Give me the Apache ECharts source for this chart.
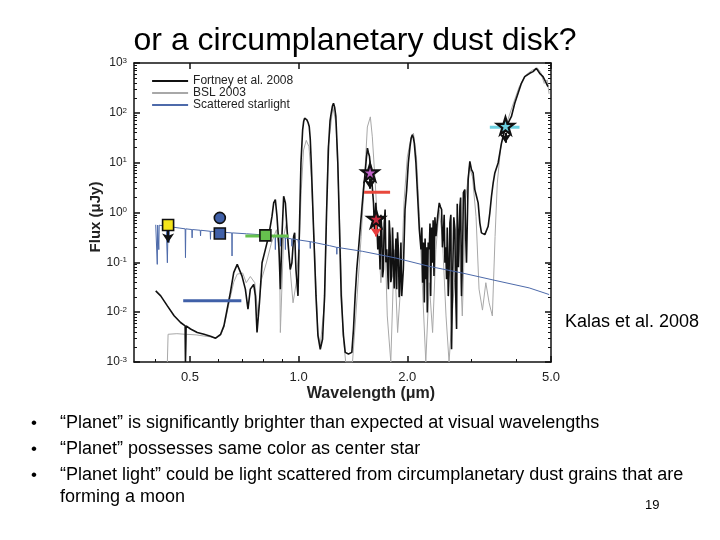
<!DOCTYPE html>
<html>
<head>
<meta charset="utf-8">
<script src="https://cdn.jsdelivr.net/npm/echarts@6/dist/echarts.min.js"></script>
<style>
html, body { margin: 0; padding: 0; background: #fff; }
#main { width: 720px; height: 540px; }
</style>
</head>
<body>
<div id="main"></div>
<script>
// spectra: [wavelength (um), flux (uJy)]
const fortney2008 = [
  [0.402,0.0267],[0.415,0.0212],[0.433,0.0134],[0.452,0.0085],[0.471,0.0062],[0.485,0.0053],[0.486,0.001],[0.488,0.0053],
  [0.502,0.0046],[0.524,0.0039],[0.547,0.0036],[0.570,0.0033],[0.589,0.0030],[0.608,0.0036],[0.621,0.0053],[0.634,0.0115],
  [0.647,0.0247],[0.661,0.062],[0.676,0.091],[0.683,0.098],[0.697,0.053],[0.712,0.029],[0.724,0.0115],[0.735,0.029],
  [0.751,0.036],[0.759,0.0212],[0.767,0.0039],[0.779,0.0156],[0.792,0.098],[0.809,0.182],[0.826,0.336],[0.844,0.845],
  [0.853,1.56],[0.862,1.82],[0.871,0.845],[0.881,0.247],[0.890,0.029],[0.899,0.336],[0.909,2.12],[0.919,1.56],
  [0.929,0.457],[0.938,0.182],[0.948,0.072],[0.958,0.098],[0.969,0.336],[0.975,0.392],[0.983,0.072],[0.996,0.0212],
  [1.006,0.62],[1.015,9.85],[1.026,45.7],[1.033,68],[1.039,78.2],[1.046,80],[1.054,72.4],[1.062,64],[1.070,53.3],[1.077,30],[1.084,9.85],[1.100,0.457],
  [1.117,0.0212],[1.131,0.0034],[1.148,0.0018],[1.165,0.0029],[1.180,0.0212],[1.195,0.985],[1.210,21.2],[1.222,70],[1.231,98.5],
  [1.240,135],[1.249,156],[1.258,130],[1.268,84.5],[1.284,9.85],[1.298,0.457],[1.312,0.0212],[1.331,0.0034],[1.346,0.00156],[1.374,0.00145],
  [1.404,0.00156],[1.419,0.0046],[1.434,0.0212],[1.449,0.072],[1.465,0.182],[1.480,0.457],[1.496,1.15],[1.512,2.88],
  [1.528,6.21],[1.540,12],[1.551,19.6],[1.560,16],[1.571,13.4],[1.594,4.57],[1.612,1.56],[1.622,0.457],[1.636,1.56],[1.646,0.62],
  [1.657,0.182],[1.671,0.336],[1.681,0.072],[1.690,0.9],[1.699,0.457],[1.708,0.05],[1.717,0.072],[1.726,0.6],[1.736,1.15],[1.745,0.1],[1.754,0.182],[1.773,0.029],
  [1.782,0.7],[1.792,0.336],[1.800,0.04],[1.811,0.053],[1.820,0.5],[1.830,0.457],[1.840,0.03],[1.849,0.098],[1.860,0.3],[1.869,0.029],[1.879,0.4],[1.889,0.182],[1.899,0.02],[1.909,0.046],[1.920,0.25],[1.930,0.021],
  [1.950,0.072],[1.971,1.15],[1.992,2.88],[2.013,9.85],[2.035,21.2],[2.050,31],[2.065,36.3],[2.078,32],[2.091,24.7],[2.113,9.85],
  [2.136,2.12],[2.159,0.457],[2.182,0.182],[2.194,0.5],[2.205,0.039],[2.216,0.25],[2.229,0.0156],[2.240,0.3],[2.253,0.046],[2.262,0.2],[2.272,0.0099],[2.285,0.25],[2.301,0.182],
  [2.311,0.6],[2.321,0.021],[2.335,0.5],[2.346,0.098],[2.358,0.7],[2.371,0.053],[2.385,0.8],[2.401,0.336],[2.427,0.845],[2.452,1.56],[2.470,1.3],[2.489,1.15],[2.502,0.2],[2.515,0.336],
  [2.530,0.9],[2.542,0.098],[2.555,0.2],[2.569,0.046],[2.580,0.5],[2.597,0.021],[2.610,0.06],[2.624,0.62],[2.640,0.9],[2.652,0.0018],[2.670,0.05],[2.690,0.8],[2.709,0.457],[2.720,0.03],[2.738,0.0046],[2.750,1.5],[2.770,0.08],[2.797,1.34],
  [2.810,2.0],[2.826,0.021],[2.845,0.15],[2.860,2.5],[2.886,2.88],[2.900,0.4],[2.917,0.098],[2.948,4.57],[2.980,10.6],[3.011,7.24],[3.043,6.21],[3.076,2.88],
  [3.109,2.12],[3.142,1.56],[3.176,0.62],[3.209,0.39],[3.279,0.36],[3.349,0.53],[3.385,0.985],[3.421,2.12],
  [3.458,3.92],[3.495,6.21],[3.569,9.85],[3.607,15.6],[3.646,24.7],[3.724,45.7],[3.803,62.1],[3.885,84.5],
  [3.968,156],[4.053,247],[4.140,392],[4.229,533],[4.365,621],[4.459,671],[4.554,782],[4.652,621],
  [4.752,533],[4.853,392],[4.905,336]
];

const bsl2003 = [
  [0.433,0.001],[0.435,0.0036],[0.460,0.0037],[0.485,0.0036],[0.486,0.001],[0.488,0.0036],[0.520,0.0035],[0.550,0.0033],
  [0.570,0.0032],[0.589,0.003],[0.608,0.0034],[0.621,0.005],[0.634,0.01],[0.647,0.02],[0.661,0.04],[0.676,0.058],
  [0.700,0.061],[0.716,0.039],[0.735,0.052],[0.756,0.039],[0.772,0.0084],[0.789,0.045],[0.814,0.097],[0.840,0.24],
  [0.868,0.45],[0.886,0.13],[0.890,0.0039],[0.909,0.33],[0.925,0.61],[0.944,0.097],[0.965,0.0154],[0.985,0.039],
  [1.006,0.33],[1.017,2.8],[1.032,18],[1.050,28],[1.068,21],[1.084,5.2],[1.107,0.18],[1.131,0.0039],
  [1.148,0.0022],[1.180,0.015],[1.205,18],[1.244,130],[1.270,60],[1.298,0.83],[1.326,0.0039],[1.350,0.001],
  [1.410,0.001],[1.440,0.0084],[1.490,0.33],[1.520,3.9],[1.550,52],[1.580,83],[1.600,33],[1.630,3.9],
  [1.660,0.39],[1.690,0.039],[1.730,0.61],[1.760,0.0084],[1.800,0.001],[1.840,0.18],[1.880,0.0039],[1.920,0.039],
  [1.960,1.8],[2.000,13],[2.050,33],[2.080,39],[2.120,13],[2.160,0.83],[2.200,0.039],[2.250,0.001],
  [2.300,0.039],[2.350,0.0039],[2.400,0.18],[2.450,1.13],[2.500,0.33],[2.560,0.0084],[2.610,0.001],[2.700,0.039],
  [2.780,0.33],[2.840,0.0084],[2.900,1.8],[2.970,8.3],[3.030,5.2],[3.100,0.83],[3.160,0.029],[3.230,0.011],
  [3.300,0.039],[3.370,0.0154],[3.440,0.0084],[3.500,0.33],[3.550,3.9],[3.630,21],[3.740,52],[3.900,130],
  [4.080,330],[4.250,570],[4.440,720],[4.580,800],[4.680,650],[4.790,390],[4.880,460],[4.940,240]
];

const scatteredStar = [
  [0.402,0.567],[0.405,0.56],[0.406,0.091],[0.407,0.56],[0.409,0.555],[0.410,0.18],[0.411,0.555],[0.430,0.53],
  [0.433,0.098],[0.435,0.53],[0.437,0.525],[0.438,0.25],[0.439,0.52],[0.469,0.486],[0.485,0.47],[0.486,0.124],
  [0.487,0.47],[0.506,0.455],[0.507,0.31],[0.508,0.455],[0.534,0.44],[0.535,0.34],[0.536,0.44],[0.569,0.42],
  [0.570,0.29],[0.571,0.42],[0.653,0.39],[0.654,0.134],[0.655,0.39],[0.717,0.374],[0.814,0.352],[0.861,0.33],
  [0.862,0.18],[0.863,0.33],[0.889,0.32],[0.890,0.21],[0.891,0.32],[0.918,0.31],[0.919,0.18],[0.920,0.31],
  [0.957,0.295],[0.958,0.21],[0.959,0.295],[0.996,0.284],[1.003,0.282],[1.004,0.18],[1.005,0.28],[1.076,0.26],
  [1.077,0.19],[1.078,0.26],[1.218,0.216],[1.275,0.2],[1.276,0.145],[1.277,0.2],[1.505,0.166],[1.860,0.122],
  [2.300,0.083],[2.840,0.061],[3.520,0.043],[4.350,0.0307],[4.940,0.0226]
];

// photometry of the object
const f435w = [[0.435, 0.56]];
const f606wCircle = [[0.605, 0.78]];
const f606wSquare = [[0.605, 0.38]];
const f814w = [[0.809, 0.347]];
const keckH = [[1.577, 6.4]];
const keckCH4 = [[1.639, 0.75]];
const irac45 = [[3.74, 55]];

// upper limit arrows: wavelength, from flux, to flux
const blackArrows = [[0.435, 0.45, 0.25], [1.577, 4.8, 3.0], [3.74, 40, 25]];
const redArrows = [[1.639, 0.6, 0.33]];

// filter widths: from wavelength, to wavelength, flux
const blueBand = [0.479, 0.694, 0.0169];
const greenBand = [0.712, 0.938, 0.336];
const redBand = [1.518, 1.792, 2.55];
const cyanBand = [3.385, 4.09, 51.5];

const xTickLabels = [0.5, 1, 2, 5];
const xMinorTicks = [0.4, 0.6, 0.7, 0.8, 0.9, 3, 4];
const yMinorTicks = [];
for (let d = -3; d < 3; d++) {
  for (let k = 2; k <= 9; k++) yMinorTicks.push(+(k * Math.pow(10, d)).toPrecision(3));
}

const FONT = '"Liberation Sans", Arial, sans-serif';
const STAR = 'path://M50,0 L61,35 L98,35 L68,57 L79,91 L50,70 L21,91 L32,57 L2,35 L39,35 Z';

const chart = echarts.init(document.getElementById('main'), null, {renderer: 'canvas'});

function bandSeries(b, color) {
  return {
    type: 'line', data: [[b[0], b[2]], [b[1], b[2]]], symbol: 'none', silent: true,
    lineStyle: {color: color, width: 3}, z: 5
  };
}

function arrowSeries(list, color) {
  return {
    type: 'line', data: [], symbol: 'none', silent: true, z: 4,
    markLine: {
      silent: true, animation: false, symbol: ['none', 'arrow'], symbolSize: [9, 9],
      label: {show: false},
      lineStyle: {color: color, width: 2, type: 'solid'},
      data: list.map(a => [{coord: [a[0], a[1]]}, {coord: [a[0], a[2]]}])
    }
  };
}

function pointSeries(data, symbol, size, color, bw) {
  return {
    type: 'scatter', data: data, symbol: symbol, symbolSize: size, z: 6,
    itemStyle: {color: color, borderColor: '#111', borderWidth: bw || 1.6, opacity: 1}
  };
}

const frameAxis = {
  type: 'log', logBase: 10, splitLine: {show: false},
  axisLine: {show: true, onZero: false, lineStyle: {color: '#111', width: 1.5}}
};

const option = {
  animation: false,
  backgroundColor: '#fff',
  grid: {left: 134, right: 169, top: 63, bottom: 178},
  legend: {
    orient: 'vertical', left: 151, top: 75, padding: 0, itemWidth: 36, itemHeight: 9, itemGap: 0,
    selectedMode: false,
    itemStyle: {opacity: 0},
    textStyle: {fontFamily: FONT, fontSize: 12, lineHeight: 11.5, color: '#222'},
    data: ['Fortney et al. 2008', 'BSL 2003', {name: 'Scattered starlight', lineStyle: {width: 2.2}}]
  },
  xAxis: [
    Object.assign({}, frameAxis, {
      min: 0.35, max: 5, position: 'bottom',
      axisTick: {show: true, inside: true, length: 6, customValues: xTickLabels, lineStyle: {color: '#111', width: 1.5}},
      axisLabel: {show: true, customValues: xTickLabels, margin: 9, fontFamily: FONT, fontSize: 13, color: '#222',
        formatter: v => Number(v).toFixed(1)}
    }),
    Object.assign({}, frameAxis, {
      min: 0.35, max: 5, position: 'top',
      axisTick: {show: true, inside: true, length: 6, customValues: xTickLabels, lineStyle: {color: '#111', width: 1.5}},
      axisLabel: {show: false}
    }),
    Object.assign({}, frameAxis, {
      min: 0.35, max: 5, position: 'bottom', axisLine: {show: false},
      axisTick: {show: true, inside: true, length: 3, customValues: xMinorTicks, lineStyle: {color: '#111'}},
      axisLabel: {show: false}
    })
  ],
  yAxis: [
    Object.assign({}, frameAxis, {
      min: 0.001, max: 1000, position: 'left',
      axisTick: {show: true, inside: true, length: 6, lineStyle: {color: '#111', width: 1.5}},
      axisLabel: {
        margin: 7, fontFamily: FONT, fontSize: 12, color: '#222',
        formatter: v => '10{s|' + Math.round(Math.log10(v)) + '}',
        rich: {s: {fontSize: 8, fontFamily: FONT, color: '#222', verticalAlign: 'top', padding: [0, 0, 5, 0]}}
      }
    }),
    Object.assign({}, frameAxis, {
      min: 0.001, max: 1000, position: 'right',
      axisTick: {show: true, inside: true, length: 6, lineStyle: {color: '#111', width: 1.5}},
      axisLabel: {show: false}
    }),
    Object.assign({}, frameAxis, {
      min: 0.001, max: 1000, position: 'left', axisLine: {show: false},
      axisTick: {show: true, inside: true, length: 3, customValues: yMinorTicks, lineStyle: {color: '#111'}},
      axisLabel: {show: false}
    }),
    Object.assign({}, frameAxis, {
      min: 0.001, max: 1000, position: 'right', axisLine: {show: false},
      axisTick: {show: true, inside: true, length: 3, customValues: yMinorTicks, lineStyle: {color: '#111'}},
      axisLabel: {show: false}
    })
  ],
  series: [
    {name: 'BSL 2003', type: 'line', data: bsl2003, symbol: 'none', silent: true, z: 2,
      lineStyle: {color: '#a8a8a8', width: 1}, itemStyle: {color: '#a8a8a8'}},
    {name: 'Fortney et al. 2008', type: 'line', data: fortney2008, symbol: 'none', silent: true, z: 3,
      lineStyle: {color: '#111', width: 1.6}, itemStyle: {color: '#111'}},
    {name: 'Scattered starlight', type: 'line', data: scatteredStar, symbol: 'none', silent: true, z: 3,
      lineStyle: {color: '#4d6aaa', width: 1}, itemStyle: {color: '#3e5595'}},
    bandSeries(blueBand, '#4060a8'),
    bandSeries(greenBand, '#66c14e'),
    bandSeries(redBand, '#e8483c'),
    bandSeries(cyanBand, '#6cd0e0'),
    arrowSeries(blackArrows, '#111'),
    arrowSeries(redArrows, '#e83c3c'),
    pointSeries(f435w, 'rect', 11, '#f4e41c'),
    pointSeries(f606wCircle, 'circle', 11, '#4060a8'),
    pointSeries(f606wSquare, 'rect', 11, '#4060a8'),
    pointSeries(f814w, 'rect', 11, '#66c14e'),
    pointSeries(keckH, STAR, 17, '#c060c8', 2.2),
    pointSeries(keckCH4, STAR, 17, '#c8283c', 2.2),
    pointSeries(irac45, STAR, 17, '#6cd0e0', 2.2)
  ],
  graphic: [
    {type: 'text', x: 355, y: 41, style: {text: 'or a circumplanetary dust disk?', font: '32px ' + FONT, fill: '#000', textAlign: 'center', textVerticalAlign: 'middle'}},
    {type: 'text', x: 96, y: 217, rotation: Math.PI / 2, style: {text: 'Flux (μJy)', font: 'bold 15px ' + FONT, fill: '#222', textAlign: 'center', textVerticalAlign: 'middle'}},
    {type: 'text', x: 371, y: 394, style: {text: 'Wavelength (μm)', font: 'bold 16px ' + FONT, fill: '#222', textAlign: 'center', textVerticalAlign: 'middle'}},
    {type: 'text', x: 565, y: 322, style: {text: 'Kalas et al. 2008', font: '18px ' + FONT, fill: '#000', textAlign: 'left', textVerticalAlign: 'middle'}},
    {type: 'text', x: 31, y: 423, style: {text: '•', font: '17px ' + FONT, fill: '#000', textVerticalAlign: 'middle'}},
    {type: 'text', x: 31, y: 449, style: {text: '•', font: '17px ' + FONT, fill: '#000', textVerticalAlign: 'middle'}},
    {type: 'text', x: 31, y: 475, style: {text: '•', font: '17px ' + FONT, fill: '#000', textVerticalAlign: 'middle'}},
    {type: 'text', x: 60, y: 423, style: {text: '“Planet” is significantly brighter than expected at visual wavelengths', font: '18px ' + FONT, fill: '#000', textVerticalAlign: 'middle'}},
    {type: 'text', x: 60, y: 449, style: {text: '“Planet” possesses same color as center star', font: '18px ' + FONT, fill: '#000', textVerticalAlign: 'middle'}},
    {type: 'text', x: 60, y: 475, style: {text: '“Planet light” could be light scattered from circumplanetary dust grains that are', font: '18px ' + FONT, fill: '#000', textVerticalAlign: 'middle'}},
    {type: 'text', x: 60, y: 497, style: {text: 'forming a moon', font: '18px ' + FONT, fill: '#000', textVerticalAlign: 'middle'}},
    {type: 'text', x: 645, y: 505, style: {text: '19', font: '13px ' + FONT, fill: '#000', textVerticalAlign: 'middle'}}
  ]
};

chart.setOption(option);
</script>
</body>
</html>
